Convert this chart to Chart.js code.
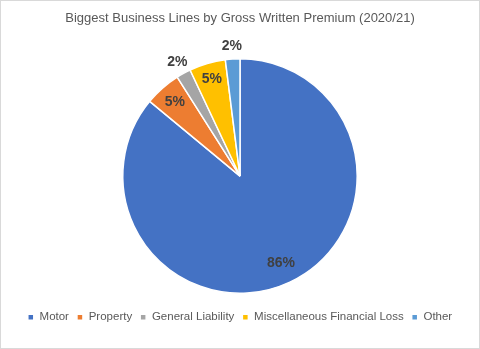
<!DOCTYPE html>
<html>
<head>
<meta charset="utf-8">
<script src="https://cdn.jsdelivr.net/npm/chart.js@4/dist/chart.umd.min.js"></script>
<style>
    html, body { margin: 0; padding: 0; background: #fff; }
    #wrap { width: 480px; height: 349px; position: relative; }
</style>
</head>
<body>
<div id="wrap"><canvas id="premiumChart" width="480" height="349"></canvas></div>
<script>
// Share of gross written premium per business line, 2020/21 (%)
var lineNames = ['Motor', 'Property', 'General Liability', 'Miscellaneous Financial Loss', 'Other'];
var premiumShare = [86, 5, 2, 5, 2];
var sliceColors = ['#4472C4', '#ED7D31', '#A5A5A5', '#FFC000', '#5B9BD5'];

// label distance from the centre, as a fraction of the radius
var labelRadius = [0.82, 0.84, 1.11, 0.86, 1.11];

var FONT = "'Liberation Sans', Arial, sans-serif";

var frame = {
    id: 'frame',
    beforeDraw: function(chart) {
        var ctx = chart.ctx;
        ctx.save();
        ctx.fillStyle = '#ffffff';
        ctx.fillRect(0, 0, chart.width, chart.height);
        ctx.strokeStyle = '#D9D9D9';
        ctx.lineWidth = 1;
        ctx.strokeRect(0.5, 0.5, chart.width - 1, chart.height - 1);
        ctx.restore();
    }
};

var sliceLabels = {
    id: 'sliceLabels',
    afterDatasetsDraw: function(chart) {
        var ctx = chart.ctx;
        var meta = chart.getDatasetMeta(0);
        ctx.save();
        ctx.font = 'bold 14px ' + FONT;
        ctx.fillStyle = '#404040';
        ctx.textAlign = 'center';
        ctx.textBaseline = 'middle';
        meta.data.forEach(function(arc, i) {
            var p = arc.getProps(['x', 'y', 'startAngle', 'endAngle', 'outerRadius'], true);
            var mid = (p.startAngle + p.endAngle) / 2;
            var r = p.outerRadius * labelRadius[i];
            ctx.fillText(premiumShare[i] + '%', p.x + Math.cos(mid) * r, p.y + Math.sin(mid) * r);
        });
        ctx.restore();
    }
};

var ctx = document.getElementById('premiumChart').getContext('2d');
var premiumChart = new Chart(ctx, {
    type: 'pie',
    data: {
        labels: lineNames,
        datasets: [{
            data: premiumShare,
            backgroundColor: sliceColors,
            borderColor: '#ffffff',
            borderWidth: 1.5,
            radius: '92.5%'
        }]
    },
    options: {
        responsive: false,
        animation: false,
        layout: {
            padding: { top: 0, bottom: 16, left: 0, right: 0 }
        },
        plugins: {
            title: {
                display: true,
                text: 'Biggest Business Lines by Gross Written Premium (2020/21)',
                color: '#595959',
                font: { family: FONT, size: 13, weight: 'normal' },
                padding: { top: 11, bottom: 22 }
            },
            legend: {
                position: 'bottom',
                labels: {
                    color: '#595959',
                    font: { family: FONT, size: 11.5 },
                    usePointStyle: true,
                    pointStyle: 'rect',
                    boxWidth: 6,
                    boxHeight: 6,
                    padding: 8
                }
            },
            tooltip: { enabled: false }
        }
    },
    plugins: [frame, sliceLabels]
});
</script>
</body>
</html>
